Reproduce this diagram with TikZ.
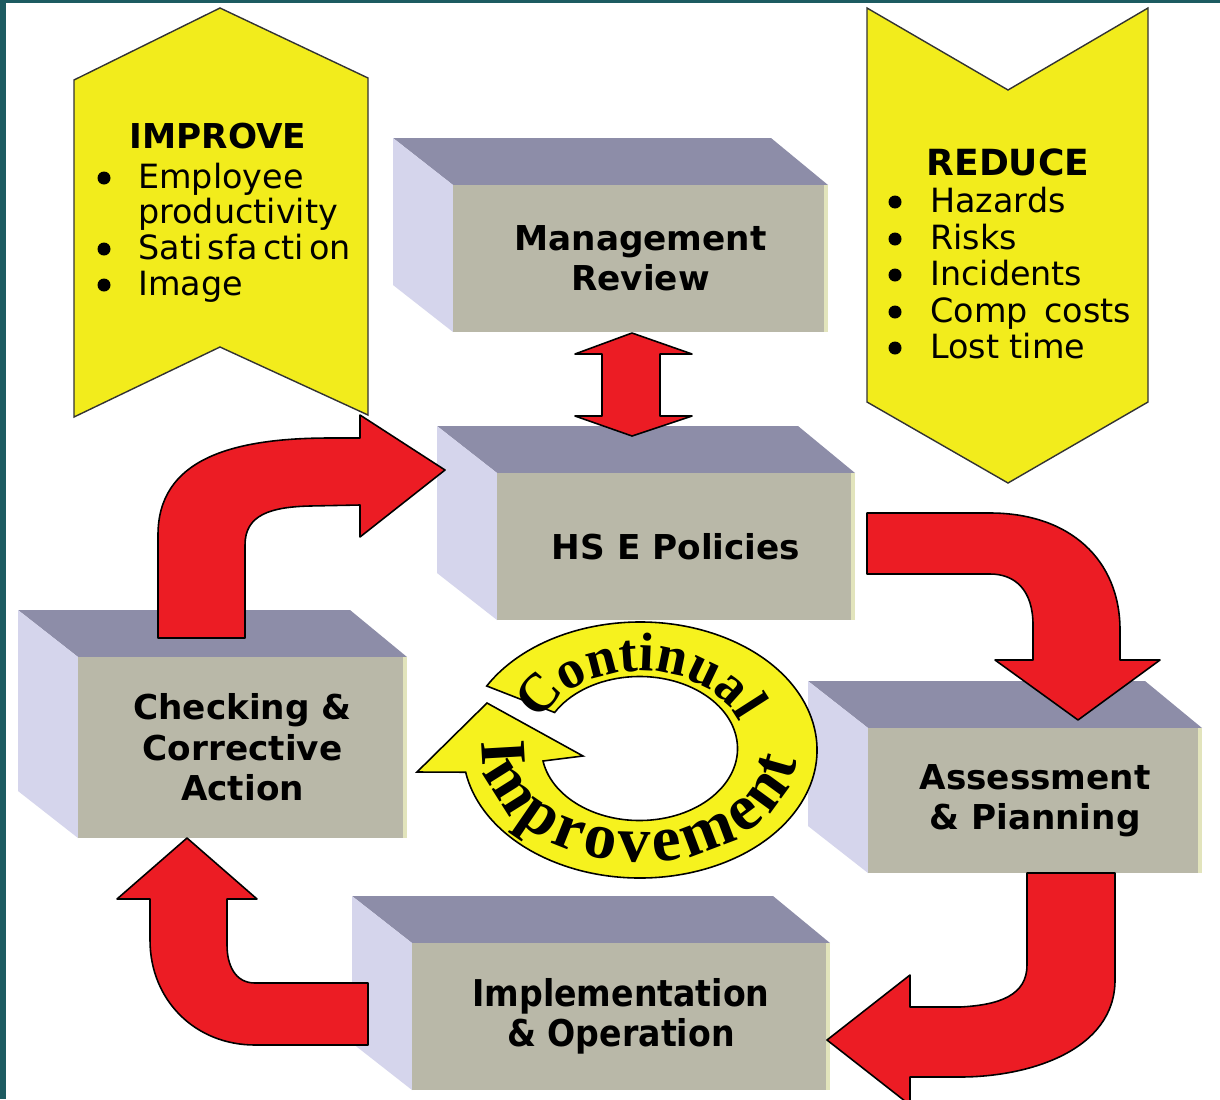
\documentclass[tikz,border=0pt]{standalone}
\usepackage{fontspec}
\setmainfont{DejaVu Sans}
\newfontfamily\condfont{DejaVu Sans Condensed}
\newfontfamily\ringfont{Liberation Serif}
\usepackage{xcolor}
\usepackage{tikz}
\usetikzlibrary{decorations.text}
\definecolor{boxfront}{HTML}{B9B8A8}
\definecolor{boxtop}{HTML}{8D8DA8}
\definecolor{boxside}{HTML}{D5D5EC}
\definecolor{boxedge}{HTML}{E2E4BC}
\definecolor{banner}{HTML}{F2EC1C}
\definecolor{ringyel}{HTML}{F6F21E}
\definecolor{arrowred}{HTML}{EC1C24}
\definecolor{frame}{HTML}{1D5B61}
\newcommand{\ringtop}{\fontsize{31}{31}\selectfont\ringfont\bfseries}
\newcommand{\ringbot}{\fontsize{37}{37}\selectfont\ringfont\bfseries}
\tikzset{
  front/.style={fill=boxfront, inner sep=0pt, align=center,
    font=\fontsize{19.5}{23}\selectfont\bfseries},
  topface/.style={fill=boxtop},
  sideface/.style={fill=boxside},
  banner/.style={fill=banner, draw=black!80, line width=0.8pt},
  blockarrow/.style={fill=arrowred, draw=black, line width=0.9pt, line join=round},
  ring/.style={fill=ringyel, draw=black, line width=0.9pt},
  item/.style={anchor=base west, inner sep=0pt, font=\fontsize{19}{23}\selectfont},
  title/.style={anchor=base, inner sep=0pt, font=\fontsize{19.5}{23}\selectfont\bfseries},
}
% 3D block: [style]{name}{left}{top}{right}{bottom}{text}
\newcommand{\Block}[7][]{%
  \fill[topface] (#3-60,#4-47) -- (#5-57,#4-47) -- (#5,#4) -- (#3,#4) -- cycle;
  \fill[sideface] (#3-60,#4-47) -- (#3,#4) -- (#3,#6) -- (#3-60,#6-47) -- cycle;
  \node[front, minimum width={(#5-#3)*0.02cm}, minimum height={(#6-#4)*0.02cm}, #1]
    (#2) at ({(#3+#5)/2},{(#4+#6)/2}) {#7};
  \fill[boxedge] (#5-4,#4) rectangle (#5,#6);
}

\begin{document}
\begin{tikzpicture}[x=0.02cm, y=-0.02cm]
  \useasboundingbox (0,0) rectangle (1220,1099);
  \clip (0,0) rectangle (1220,1099);
  \fill[white] (0,0) rectangle (1220,1099);
  \fill[frame] (0,0) rectangle (6,1099);
  \fill[frame] (0,0) rectangle (1220,2.5);

  % banners
  \draw[banner] (74,80) -- (220,8) -- (368,78) -- (368,415) -- (220,347) -- (74,417) -- cycle;
  \draw[banner] (867,8) -- (1008,90) -- (1148,8) -- (1148,402) -- (1008,483) -- (867,402) -- cycle;
  \node[title] (improve) at (218,148) {IMPROVE};
  \foreach \txt/\yy [count=\i] in {Employee/188, productivity/223, Sati\,sfa\,cti\,on/259, Image/295}
    \node[item] (imp\i) at (138,\yy) {\txt};
  \foreach \yy in {188,259,295}
    \fill (104,\yy-10) circle (6.5);
  \node[title, font=\fontsize{20.5}{23}\selectfont\bfseries] (reduce) at (1008,175) {REDUCE};
  \foreach \txt/\yy [count=\i] in {Hazards/212, Risks/249, Incidents/285, Comp\hspace{0.5em}costs/322, Lost time/358} {
    \node[item] (red\i) at (930,\yy) {\txt};
    \fill (895,\yy-10) circle (6.5);
  }

  % blocks
  \Block{mgmt}{453}{185}{828}{332}{Management\\Review}
  \Block{hse}{497}{473}{855}{620}{HS E Policies}
  \Block{check}{78}{657}{407}{838}{Checking \&\\Corrective\\Action}
  \Block{assess}{868}{728}{1202}{873}{Assessment\\\& Pianning}
  \Block[font=\fontsize{21}{23}\selectfont\condfont\bfseries]{impl}{412}{943}{830}{1090}{Implementation\\\& Operation}

  % red arrows
  \draw[blockarrow] (632,333) -- (692,354) -- (660,354) -- (660,416) -- (692,416) -- (632,436)
    -- (575,416) -- (602,416) -- (602,354) -- (575,354) -- cycle;
  \draw[blockarrow] (158,638) -- (158,535) .. controls (158,460) and (230,438) .. (330,438)
    -- (360,438) -- (360,415) -- (445,470) -- (360,537) -- (360,505) -- (310,506)
    .. controls (270,507) and (245,515) .. (245,545) -- (245,638) -- cycle;
  \draw[blockarrow] (867,513) -- (990,513) .. controls (1070,513) and (1120,560) .. (1120,630)
    -- (1120,660) -- (1160,660) -- (1078,720) -- (995,660) -- (1033,660) -- (1033,625)
    .. controls (1033,590) and (1015,574) .. (990,574) -- (867,574) -- cycle;
  \draw[blockarrow] (1027,873) -- (1115,873) -- (1115,980) .. controls (1115,1050) and (1030,1077) .. (960,1077)
    -- (910,1077) -- (910,1105) -- (827,1040) -- (910,975) -- (910,1007) -- (960,1007)
    .. controls (1000,1005) and (1027,995) .. (1027,965) -- cycle;
  \draw[blockarrow] (368,983) -- (255,983) .. controls (235,983) and (227,965) .. (227,945)
    -- (227,899) -- (257,899) -- (187,838) -- (117,899) -- (150,899) -- (150,940)
    .. controls (150,1000) and (195,1045) .. (255,1045) -- (368,1045) -- cycle;

  % continual improvement ring
  \draw[ring] (640,750) ++(210:177 and 128) arc[start angle=210, end angle=530, x radius=177, y radius=128]
    -- (417,772) -- (487,703) -- (583,756) -- (543,761)
    arc[start angle=530, end angle=210, x radius=98, y radius=72] -- cycle;
  \path[decorate, decoration={text along path, text align=fit to path, text={|\ringtop|Continual}}]
    (640,749) ++(200:106 and 78) arc[start angle=200, end angle=340, x radius=106, y radius=78];
  \path[decorate, decoration={text along path, text align=fit to path, text={|\ringbot|Improvement}}]
    (640,749) ++(184:158 and 113) arc[start angle=184, end angle=6, x radius=158, y radius=113];
\end{tikzpicture}
\end{document}
